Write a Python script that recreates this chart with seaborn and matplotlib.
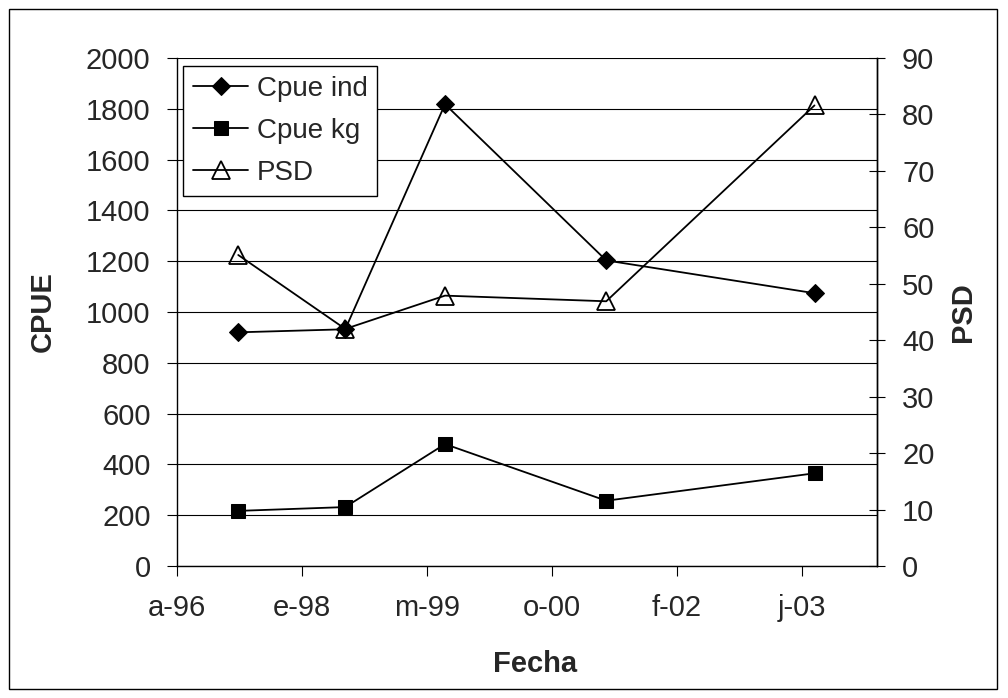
import pandas as pd
import matplotlib
matplotlib.use("Agg")
import matplotlib.pyplot as plt
import seaborn as sns
from matplotlib.patches import Rectangle

# Sampling dates and measured series
fechas = ["1997-04-30", "1998-07-02", "1999-08-05", "2001-05-11", "2003-08-22"]
cpue_ind = [920, 932, 1818, 1203, 1074]
cpue_kg = [217, 232, 480, 257, 365]
psd = [55.1, 42.0, 47.9, 46.9, 81.6]

# Date axis: start, tick step (days) and labels
eje_inicio = "1996-08-28"
paso_dias = 500
tick_labels = ["a-96", "e-98", "m-99", "o-00", "f-02", "j-03"]

sns.set_theme(style="white")
plt.rcParams["font.family"] = ["Liberation Sans", "DejaVu Sans"]

df = pd.DataFrame({
    "Fecha": pd.to_datetime(fechas),
    "Cpue ind": cpue_ind,
    "Cpue kg": cpue_kg,
    "PSD": psd,
})

W, H = 1008, 698
fig = plt.figure(figsize=(W / 100, H / 100), dpi=100)
fig.patch.set_facecolor("white")
ax = fig.add_axes([177 / W, 132 / H, 700 / W, 508 / H])
ax2 = ax.twinx()

line_kw = dict(color="black", linewidth=1.3, markeredgecolor="black")
sns.lineplot(data=df, x="Fecha", y="Cpue ind", ax=ax, marker="D", markersize=9,
             markerfacecolor="black", label="Cpue ind", **line_kw)
sns.lineplot(data=df, x="Fecha", y="Cpue kg", ax=ax, marker="s", markersize=10,
             markerfacecolor="black", label="Cpue kg", **line_kw)
sns.lineplot(data=df, x="Fecha", y="PSD", ax=ax2, marker="^", markersize=13.5,
             markerfacecolor="none", markeredgewidth=1.3, label="PSD", **line_kw)

# Axis ranges and ticks
inicio = pd.Timestamp(eje_inicio)
tick_pos = [inicio + pd.Timedelta(days=paso_dias * k) for k in range(len(tick_labels))]
ax.set_xlim(inicio, inicio + pd.Timedelta(days=int(paso_dias * 5.6)))
ax.set_xticks(tick_pos)
ax.set_xticklabels(tick_labels)
ax.set_ylim(0, 2000)
ax.set_yticks(range(0, 2001, 200))
ax2.set_ylim(0, 90)
ax2.set_yticks(range(0, 91, 10))

ax.yaxis.grid(True, color="black", linewidth=0.8)
ax.xaxis.grid(False)
ax2.grid(False)

FS = 21
ax.tick_params(axis="y", direction="out", length=7, width=0.8, color="black",
               labelsize=FS, pad=12, left=True)
ax.tick_params(axis="x", direction="out", length=7, width=0.8, color="black",
               labelsize=FS, pad=13, bottom=True)
ax2.tick_params(axis="y", direction="inout", length=12, width=0.8, color="black",
                labelsize=FS, pad=12, right=True)

for a in (ax, ax2):
    for side, sp in a.spines.items():
        sp.set_color("black")
        sp.set_linewidth(1.0)
    a.spines["top"].set_visible(False)
ax2.spines["left"].set_visible(False)
ax2.spines["bottom"].set_visible(False)

ax.set_xlabel("Fecha", fontsize=FS, fontweight="bold")
ax.set_ylabel("CPUE", fontsize=FS, fontweight="bold")
ax2.set_ylabel("PSD", fontsize=FS, fontweight="bold")
ax.xaxis.label.set_va("center")
ax.yaxis.label.set_va("center")
ax2.yaxis.label.set_va("center")
ax.xaxis.set_label_coords((535 - 177) / 700, (566 - 664) / 508)
ax.yaxis.set_label_coords((43 - 177) / 700, 0.5)
ax2.yaxis.set_label_coords((963 - 177) / 700, 0.5)

# Combined legend
h1, l1 = ax.get_legend_handles_labels()
h2, l2 = ax2.get_legend_handles_labels()
ax.get_legend().remove()
leg = ax2.legend(h1 + h2, l1 + l2, loc="upper left", bbox_to_anchor=(6 / 700, 1 - 8 / 508),
                 fontsize=20, frameon=True, fancybox=False, shadow=False,
                 edgecolor="black", facecolor="white", framealpha=1,
                 handlelength=2.0, labelspacing=0.58, borderpad=0.35,
                 handletextpad=0.3, borderaxespad=0)
leg.get_frame().set_linewidth(1.0)

# Outer chart frame
fig.patches.append(Rectangle((9 / W, 9 / H), 988 / W, 680 / H, transform=fig.transFigure,
                             fill=False, edgecolor="black", linewidth=1.0))

fig.savefig("out.png", dpi=100)
